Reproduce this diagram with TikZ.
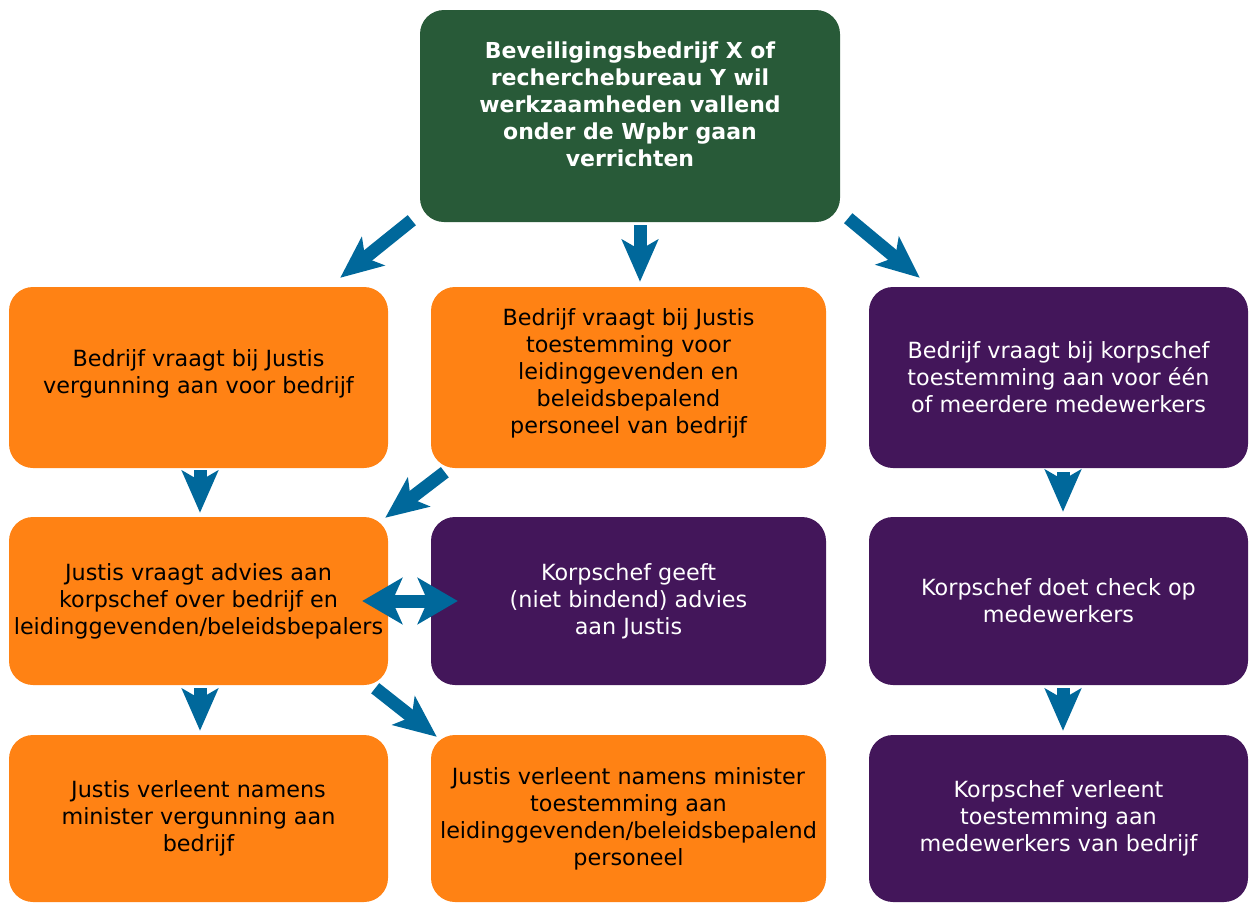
\documentclass[tikz,border=0pt]{standalone}
\usepackage{fontspec}
\setmainfont{DejaVu Sans}
\usetikzlibrary{arrows.meta}

\definecolor{wpgreen}{RGB}{40,90,56}
\definecolor{wporange}{RGB}{255,130,20}
\definecolor{wppurple}{RGB}{67,22,90}
\definecolor{wpblue}{RGB}{0,104,155}

\begin{document}
\begin{tikzpicture}[x=1pt, y=-1pt,
    box/.style={rectangle, rounded corners=24pt, align=center, inner sep=4pt,
        minimum width=379pt, font=\fontsize{22.3}{27}\selectfont},
    obox/.style={box, fill=wporange, text=black},
    pbox/.style={box, fill=wppurple, text=white},
    flow/.style={draw=wpblue, line width=13pt, -{Stealth[length=42pt,width=36pt,inset=10pt]}},
    both/.style={draw=wpblue, line width=13pt, {Stealth[length=40pt,width=46pt,inset=10pt]}-{Stealth[length=40pt,width=46pt,inset=10pt]}}]
    \useasboundingbox (0,0) rectangle (1250,903);

    % top
    \node[box, fill=wpgreen, text=white, minimum width=420pt, minimum height=212pt,
        font=\fontsize{22}{27}\selectfont\bfseries] (start) at (630,116)
        {Beveiligingsbedrijf X of\\recherchebureau Y wil\\werkzaamheden vallend\\onder de Wpbr gaan\\verrichten\\[-3pt]};

    % row 1
    \node[obox, minimum height=181pt] (vraagv) at (198.5,377.5)
        {Bedrijf vraagt bij Justis\\vergunning aan voor bedrijf\\[-15pt]};
    \node[obox, minimum width=395pt, minimum height=181pt] (vraagt) at (628.5,377.5)
        {Bedrijf vraagt bij Justis\\toestemming voor\\leidinggevenden en\\beleidsbepalend\\personeel van bedrijf\\[-15pt]};
    \node[pbox, minimum height=181pt] (vraagk) at (1058.5,377.5)
        {Bedrijf vraagt bij korpschef\\toestemming aan voor één\\of meerdere medewerkers};

    % row 2
    \node[obox, minimum height=168pt] (advies) at (198.5,601)
        {Justis vraagt advies aan\\korpschef over bedrijf en\\leidinggevenden/beleidsbepalers};
    \node[pbox, minimum width=395pt, minimum height=168pt] (geeft) at (628.5,601)
        {Korpschef geeft\\(niet bindend) advies\\aan Justis};
    \node[pbox, minimum height=168pt] (check) at (1058.5,601)
        {Korpschef doet check op\\medewerkers};

    % row 3
    \node[obox, minimum height=167pt] (verg) at (198.5,818.5)
        {Justis verleent namens\\minister vergunning aan\\bedrijf};
    \node[obox, minimum width=395pt, minimum height=167pt] (toest) at (628.5,818.5)
        {Justis verleent namens minister\\toestemming aan\\leidinggevenden/beleidsbepalend\\personeel};
    \node[pbox, minimum height=167pt] (verlk) at (1058.5,818.5)
        {Korpschef verleent\\toestemming aan\\medewerkers van bedrijf};

    % arrows
    \draw[flow] ([shift={(-8,-2)}]start.south west) -- ([shift={(-48,-9)}]vraagv.north east);
    \draw[flow] ([shift={(10,3)}]start.south) -- ([shift={(11.5,-5)}]vraagt.north);
    \draw[flow] ([shift={(8,-4)}]start.south east) -- ([shift={(51,-9)}]vraagk.north west);

    \draw[flow] ([shift={(1.5,2)}]vraagv.south) -- ([shift={(1.5,-4)}]advies.north);
    \draw[flow] ([shift={(14,4)}]vraagt.south west) -- ([shift={(-3,1)}]advies.north east);
    \draw[both] ([shift={(-26,0)}]advies.east) -- ([shift={(27,0)}]geeft.west);
    \draw[flow] ([shift={(1.5,3)}]advies.south) -- ([shift={(1.5,-4)}]verg.north);
    \draw[flow] ([shift={(-13,3)}]advies.south east) -- ([shift={(6,2)}]toest.north west);

    \draw[flow] ([shift={(4.5,4)}]vraagk.south) -- ([shift={(4.5,-5)}]check.north);
    \draw[flow] ([shift={(4.5,3)}]check.south) -- ([shift={(4.5,-4)}]verlk.north);
\end{tikzpicture}
\end{document}
